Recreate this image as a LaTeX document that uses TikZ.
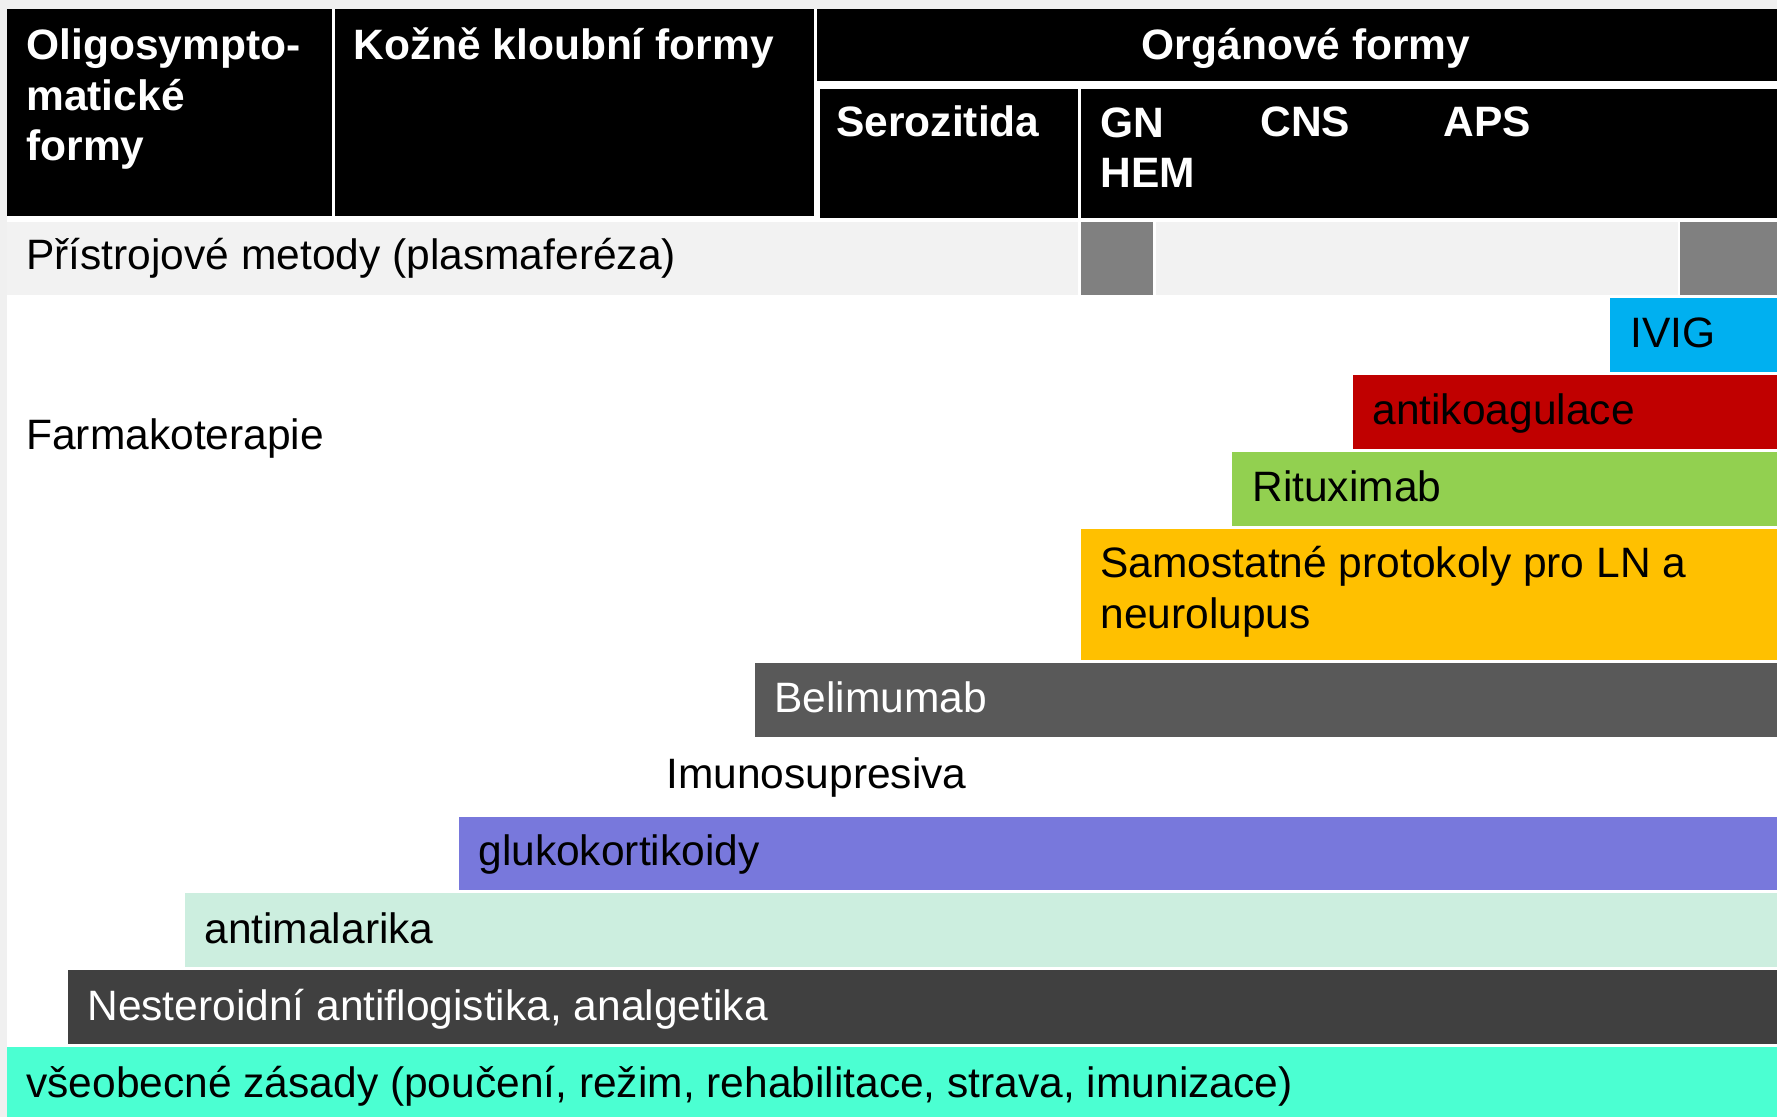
\documentclass[tikz,border=0pt]{standalone}
\usepackage{fontspec}
\setmainfont{Liberation Sans}
\usepackage{tikz}
\usetikzlibrary{positioning}

\definecolor{slidegray}{HTML}{F0F0F0}
\definecolor{bandgray}{HTML}{F2F2F2}
\definecolor{midgray}{HTML}{808080}
\definecolor{ivigblue}{HTML}{00B0F0}
\definecolor{koagred}{HTML}{C00000}
\definecolor{rituxgreen}{HTML}{92D050}
\definecolor{protorange}{HTML}{FFC000}
\definecolor{belimgray}{HTML}{595959}
\definecolor{glukoviolet}{HTML}{7878DC}
\definecolor{malarmint}{HTML}{CCEEDF}
\definecolor{nsaidgray}{HTML}{404040}
\definecolor{zasadyaqua}{HTML}{4BFFD2}

\newcommand{\slidefont}{\fontsize{21.25pt}{25.25pt}\selectfont}

\tikzset{
  hdr/.style={anchor=base west, inner sep=0pt, text=white, font=\slidefont\bfseries, align=left},
  lbl/.style={anchor=base west, inner sep=0pt, text=black, font=\slidefont, align=left},
  wlbl/.style={lbl, text=white},
}

\begin{document}
\begin{tikzpicture}[x=0.5pt, y=-0.5pt]
        % slide background
        \fill[slidegray] (0,0) rectangle (1777,1117);
        \fill[white] (7,9) rectangle (1777,1117);
        \useasboundingbox (0,0) rectangle (1777,1117);

        % header
        \fill[black] (7,9) rectangle (332,216);
        \fill[black] (335,9) rectangle (814,216);
        \fill[black] (817,9) rectangle (1777,81);
        \fill[black] (820,89) rectangle (1078,218);
        \fill[black] (1081,89) rectangle (1777,218);
        % multi-line nodes: base = last line
        \node[hdr] (oligo) at (26,161) {Oligosympto-\\matické\\formy};
        \node[hdr] (kozne) at (353,60) {Kožně kloubní formy};
        \node[hdr, anchor=base] (organ) at (1306,60) {Orgánové formy};
        \node[hdr] (seroz) at (836,137) {Serozitida};
        \node[hdr] (gn) at (1100,188) {GN\\HEM};
        \node[hdr] (cns) at (1260,137) {CNS};
        \node[hdr] (aps) at (1443,137) {APS};

        % pristrojove metody
        \fill[bandgray] (7,222) rectangle (1078,295);
        \fill[midgray] (1081,222) rectangle (1153,295);
        \fill[bandgray] (1156,222) rectangle (1678,295);
        \fill[midgray] (1680,222) rectangle (1777,295);
        \node[lbl] (pristr) at (26,270) {Přístrojové metody (plasmaferéza)};

        % farmakoterapie
        \node[lbl] (farmako) at (26,450) {Farmakoterapie};

        \fill[ivigblue] (1610,298) rectangle (1777,372);
        \node[lbl] (ivig) at (1630,348) {IVIG};

        \fill[koagred] (1353,375) rectangle (1777,449);
        \node[lbl] (koag) at (1372,424) {antikoagulace};

        \fill[rituxgreen] (1232,452) rectangle (1777,526);
        \node[lbl] (ritux) at (1252,502) {Rituximab};

        \fill[protorange] (1081,529) rectangle (1777,660);
        \node[lbl] (proto) at (1100,628) {Samostatné protokoly pro LN a\\neurolupus};

        \fill[belimgray] (755,663) rectangle (1777,737);
        \node[wlbl] (belim) at (774,712) {Belimumab};

        \node[lbl] (imuno) at (666,788) {Imunosupresiva};

        \fill[glukoviolet] (459,817) rectangle (1777,890);
        \node[lbl] (gluko) at (478,865) {glukokortikoidy};

        \fill[malarmint] (185,893) rectangle (1777,967);
        \node[lbl] (malar) at (204,943) {antimalarika};

        \fill[nsaidgray] (68,970) rectangle (1777,1044);
        \node[wlbl] (nsaid) at (87,1020) {Nesteroidní antiflogistika, analgetika};

        \fill[zasadyaqua] (7,1047) rectangle (1777,1117);
        \node[lbl] (zasady) at (26,1097) {všeobecné zásady (poučení, režim, rehabilitace, strava, imunizace)};

    \end{tikzpicture}
\end{document}
